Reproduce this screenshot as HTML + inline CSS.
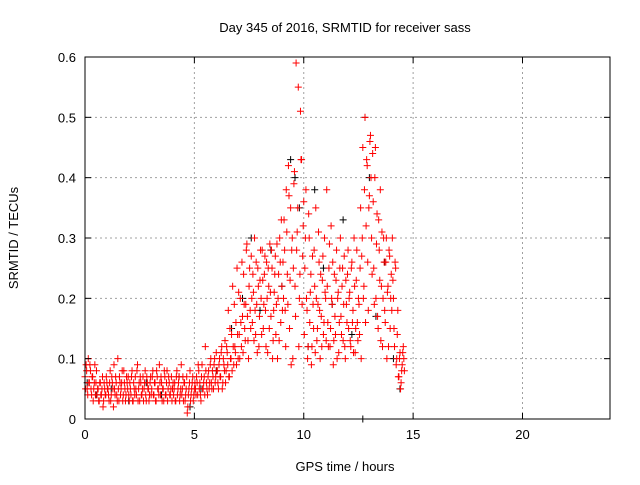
<!DOCTYPE html>
<html><head><meta charset="utf-8"><style>
body{margin:0;background:#fff;}
svg text{font-family:"Liberation Sans",sans-serif;font-size:13px;fill:#000;}
</style></head><body>
<svg id="chart" width="640" height="480">
<rect width="640" height="480" fill="#fff"/>
<g id="grid"></g>
<g id="pts"></g>
<g id="axes"></g>
<text x="345" y="32" text-anchor="middle">Day 345 of 2016, SRMTID for receiver sass</text>
<text x="345" y="471" text-anchor="middle">GPS time / hours</text>
<text transform="translate(18,238) rotate(-90)" text-anchor="middle">SRMTID / TECUs</text>
</svg>
<script>
const xTicks=[0,5,10,15,20];
const yTicks=[0,0.1,0.2,0.3,0.4,0.5,0.6];
const yTickLabels=["0","0.1","0.2","0.3","0.4","0.5","0.6"];
const redStart=0, redStep=0.05;
const redVals=[0.07,0.09,0.05,0.1,0.06,0.08,0.04,0.07,0.05,0.09,0.06,0.04,0.05,0.03,0.06,0.04,0.07,0.03,0.05,0.04,0.06,
0.05,0.03,0.08,0.04,0.06,0.02,0.05,0.07,0.04,0.1,0.03,0.06,0.05,0.08,0.04,0.06,0.03,0.07,0.05,0.04,
0.06,0.04,0.08,0.03,0.05,0.07,0.04,0.09,0.05,0.03,0.06,0.04,0.07,0.05,0.08,0.03,0.06,0.05,0.04,0.07,
0.05,0.08,0.04,0.06,0.03,0.07,0.05,0.09,0.04,0.06,0.05,0.03,0.07,0.04,0.08,0.05,0.06,0.04,0.07,0.05,
0.04,0.06,0.03,0.08,0.05,0.07,0.04,0.09,0.05,0.03,0.06,0.04,0.07,0.02,0.05,0.08,0.04,0.06,0.03,0.05,
0.05,0.07,0.04,0.08,0.06,0.03,0.09,0.05,0.07,0.12,0.06,0.04,0.08,0.06,0.1,0.05,0.07,0.09,0.06,0.11,
0.08,0.05,0.1,0.07,0.12,0.06,0.09,0.13,0.08,0.11,0.18,0.07,0.1,0.14,0.22,0.09,0.12,0.16,0.25,0.1,
0.14,0.2,0.12,0.17,0.24,0.15,0.19,0.29,0.13,0.22,0.18,0.27,0.16,0.21,0.3,0.14,0.19,0.25,0.12,0.23,
0.2,0.28,0.15,0.24,0.18,0.26,0.11,0.22,0.29,0.17,0.25,0.13,0.21,0.27,0.19,0.1,0.24,0.3,0.16,0.22,
0.26,0.33,0.18,0.38,0.24,0.42,0.15,0.35,0.28,0.1,0.39,0.22,0.59,0.31,0.55,0.2,0.51,0.43,0.27,0.36,
0.25,0.38,0.18,0.12,0.3,0.21,0.09,0.27,0.15,0.22,0.35,0.13,0.19,0.26,0.1,0.17,0.23,0.14,0.3,0.2,
0.38,0.16,0.25,0.12,0.32,0.19,0.09,0.24,0.14,0.28,0.2,0.11,0.25,0.17,0.22,0.13,0.27,0.1,0.19,0.24,
0.15,0.21,0.12,0.26,0.18,0.3,0.11,0.23,0.16,0.2,0.14,0.35,0.27,0.45,0.22,0.5,0.32,0.42,0.18,0.37,
0.47,0.3,0.44,0.25,0.4,0.2,0.34,0.15,0.28,0.38,0.22,0.12,0.3,0.18,0.26,0.1,0.22,0.28,0.15,0.24,
0.3,0.2,0.12,0.25,0.1,0.18,0.07,0.11,0.06,0.09,0.12,0.08];
const red2Start=0.025, red2Step=0.05;
const red2Vals=[0.05,0.08,0.04,0.06,0.09,0.05,0.07,0.03,0.06,0.04,0.08,0.05,0.03,0.06,0.04,0.05,0.02,0.06,0.04,0.07,0.05,
0.04,0.06,0.03,0.07,0.05,0.09,0.04,0.06,0.03,0.05,0.07,0.04,0.06,0.03,0.08,0.05,0.04,0.06,0.07,0.03,
0.05,0.07,0.03,0.06,0.04,0.05,0.08,0.03,0.06,0.07,0.04,0.05,0.03,0.06,0.04,0.07,0.05,0.03,0.06,0.04,
0.07,0.04,0.06,0.03,0.08,0.05,0.04,0.06,0.07,0.03,0.05,0.08,0.04,0.06,0.03,0.07,0.04,0.05,0.03,0.06,
0.05,0.03,0.07,0.04,0.06,0.03,0.05,0.04,0.07,0.06,0.03,0.05,0.01,0.04,0.06,0.03,0.05,0.07,0.04,0.06,
0.04,0.06,0.09,0.05,0.04,0.07,0.05,0.06,0.04,0.08,0.05,0.07,0.05,0.09,0.06,0.08,0.05,0.1,0.07,0.08,
0.06,0.09,0.07,0.11,0.05,0.1,0.08,0.06,0.12,0.09,0.07,0.15,0.1,0.08,0.12,0.19,0.11,0.09,0.14,0.21,
0.1,0.16,0.26,0.11,0.19,0.13,0.28,0.17,0.1,0.25,0.15,0.2,0.24,0.13,0.18,0.26,0.11,0.22,0.17,0.28,
0.14,0.23,0.19,0.27,0.12,0.2,0.25,0.15,0.21,0.28,0.1,0.18,0.24,0.14,0.29,0.2,0.13,0.26,0.33,0.18,
0.2,0.28,0.12,0.31,0.19,0.37,0.23,0.09,0.3,0.25,0.41,0.17,0.28,0.35,0.12,0.24,0.43,0.19,0.32,0.14,
0.3,0.2,0.1,0.34,0.16,0.24,0.12,0.19,0.28,0.11,0.2,0.15,0.31,0.18,0.24,0.12,0.27,0.16,0.21,0.13,
0.22,0.12,0.29,0.15,0.2,0.26,0.13,0.17,0.23,0.1,0.21,0.16,0.3,0.14,0.25,0.19,0.12,0.23,0.16,0.28,
0.2,0.13,0.25,0.16,0.11,0.22,0.15,0.28,0.13,0.19,0.25,0.1,0.3,0.2,0.38,0.16,0.43,0.26,0.35,0.46,
0.4,0.24,0.36,0.19,0.45,0.29,0.17,0.33,0.23,0.13,0.31,0.2,0.26,0.16,0.3,0.21,0.12,0.27,0.2,0.18,
0.23,0.15,0.26,0.09,0.14,0.07,0.1,0.05,0.08,0.11,0.1];
const blackT=[0.1,0.5,1.2,2.0,2.8,3.5,4.3,4.8,5.3,6.0,6.7,7.2,7.6,8.0,8.5,9.0,9.4,9.6,9.8,10.2,10.5,10.9,11.3,11.8,12.2,12.7,12.8,13.0,13.3,13.7,14.1,14.4];
const blackV=[0.06,0.04,0.05,0.03,0.06,0.04,0.07,0.02,0.05,0.08,0.15,0.2,0.3,0.18,0.28,0.22,0.43,0.4,0.35,0.12,0.38,0.25,0.19,0.33,0.14,0.0,0.5,0.4,0.17,0.26,0.1,0.05];

const L=85,R=610,T=57,B=419,XMAX=24,YMAX=0.6;
const X=v=>L+v/XMAX*(R-L);
const Y=v=>B-v/YMAX*(B-T);
const NS='http://www.w3.org/2000/svg';
function mk(tag,attrs,parent){const e=document.createElementNS(NS,tag);for(const k in attrs)e.setAttribute(k,attrs[k]);parent.appendChild(e);return e;}
const grid=document.getElementById('grid'),axes=document.getElementById('axes'),pts=document.getElementById('pts');
xTicks.forEach((t,i)=>{
  const x=X(t);
  if(t>0){const g=mk('line',{x1:x,x2:x,y1:T,y2:B,stroke:'#a0a0a0','stroke-dasharray':'2,3'},grid);
  
  }
  mk('line',{x1:x,x2:x,y1:B,y2:B-6,stroke:'#000'},axes);
  mk('line',{x1:x,x2:x,y1:T,y2:T+6,stroke:'#000'},axes);
  const tx=mk('text',{x:x,y:B+20,'text-anchor':'middle'},axes);tx.textContent=t;
  
  
});
yTicks.forEach((t,i)=>{
  const y=Y(t);
  if(t>0&&t<YMAX){const g=mk('line',{x1:L,x2:R,y1:y,y2:y,stroke:'#a0a0a0','stroke-dasharray':'2,3'},grid);
  
  }
  mk('line',{x1:L,x2:L+6,y1:y,y2:y,stroke:'#000'},axes);
  mk('line',{x1:R,x2:R-6,y1:y,y2:y,stroke:'#000'},axes);
  const tx=mk('text',{x:L-9,y:y+5,'text-anchor':'end'},axes);tx.textContent=yTickLabels[i];
  
  
});
const frame=mk('rect',{x:L,y:T,width:R-L,height:B-T,fill:'none',stroke:'#000'},axes);


function cross(t,v,col){
  const x=X(t),y=Y(v);
  const p=mk('path',{d:`M${x-3.5},${y}h7M${x},${y-3.5}v7`,stroke:col,'stroke-width':1},pts);
  return p;
}
blackT.forEach((t,i)=>{const p=cross(t,blackV[i],'#000');
  
  });
redVals.forEach((v,i)=>{const p=cross(redStart+i*redStep,v,'#ff0000');
  
  });
red2Vals.forEach((v,i)=>{const p=cross(red2Start+i*red2Step,v,'#ff0000');
  
  });
</script>
</body></html>
